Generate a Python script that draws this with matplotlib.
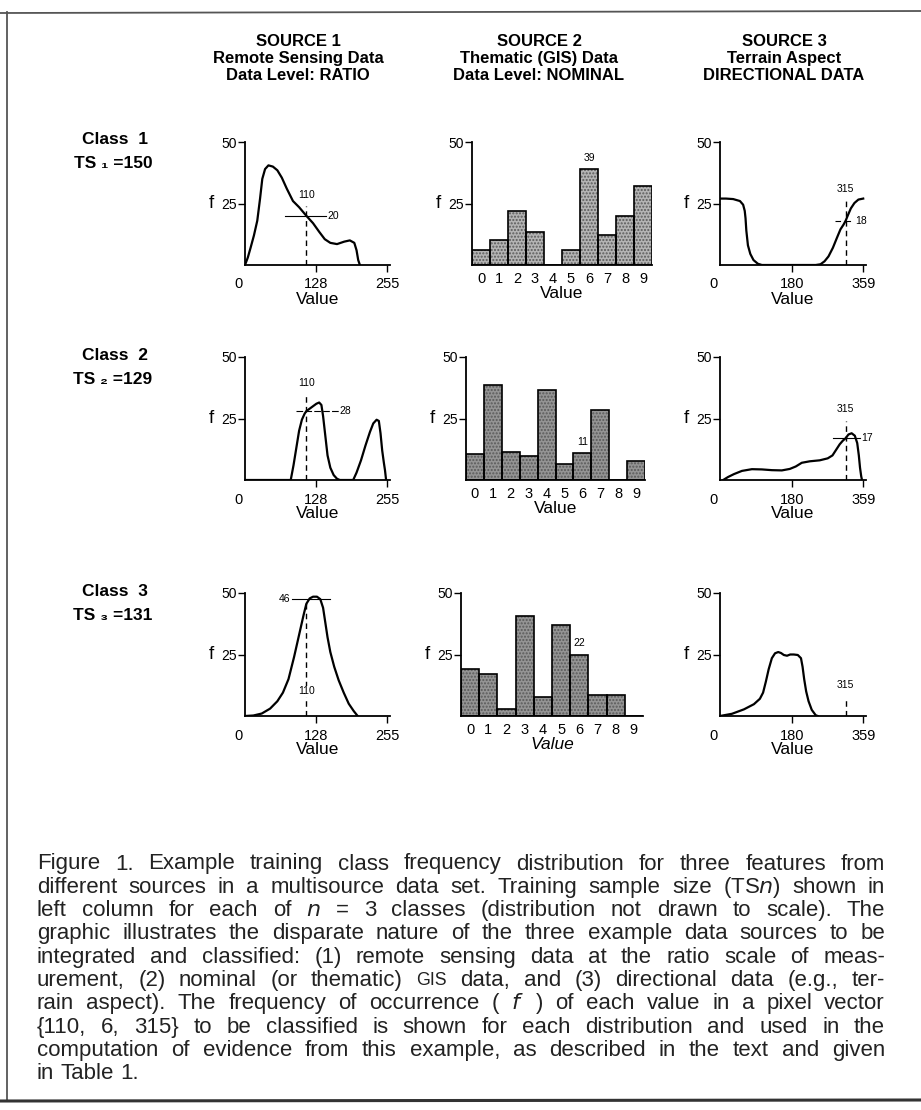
import matplotlib.pyplot as plt
from matplotlib.lines import Line2D
from matplotlib.transforms import ScaledTranslation

plt.rcParams['font.family'] = ['Liberation Sans', 'DejaVu Sans']

# ---------------- data ----------------
header_lines = [
    ['SOURCE 1', 'Remote Sensing Data', 'Data Level: RATIO'],
    ['SOURCE 2', 'Thematic (GIS) Data', 'Data Level: NOMINAL'],
    ['SOURCE 3', 'Terrain Aspect', 'DIRECTIONAL DATA'],
]
class_names = ['Class  1', 'Class  2', 'Class  3']
ts_labels = ['TS \u2081 =150', 'TS \u2082 =129', 'TS \u2083 =131']

# source 1: remote sensing, value 0-255
s1_x = [
    [0, 5, 10, 16, 22, 27, 31, 36, 42, 50, 58, 66, 75, 86, 97, 110, 122, 133, 143, 153, 165, 178, 188, 196, 200, 203, 206],
    [0, 82, 87, 92, 97, 102, 107, 110, 116, 122, 128, 133, 137, 140, 144, 148, 153, 159, 165, 170, 194, 200, 208, 216, 224,
     230, 236, 240, 243, 246, 249, 251, 253],
    [0, 15, 30, 45, 58, 68, 78, 88, 97, 105, 110, 116, 122, 129, 135, 140, 144, 148, 153, 160, 168, 177, 186, 195, 202],
]
s1_f = [
    [0, 3, 7, 12, 18, 27, 35, 39, 40.5, 40, 38.5, 35.5, 31, 26, 23.5, 20, 17, 13.5, 10.5, 9, 8.5, 9.5, 10, 9, 6, 2, 0],
    [0, 0, 6, 13, 20, 24.5, 27, 28, 29, 30, 31, 31.5, 30.5, 26, 18, 10, 5, 2, 0.5, 0, 0, 3, 8, 14, 19.5,
     23, 24.5, 24, 19, 12, 7, 4, 0],
    [0, 0.2, 1, 3, 6, 9.5, 15, 24, 33, 41, 45.6, 47.8, 48.5, 48.5, 47.5, 44, 38, 32, 26, 20, 14.5, 9.5, 5, 2, 0],
]

# source 2: thematic classes 0-9
s2_values = list(range(10))
s2_counts = [
    [6, 10, 22, 13.5, 0, 6, 39, 12, 20, 32],
    [10.5, 38.5, 11.5, 9.7, 36.4, 6.4, 11, 28.5, 0, 7.6],
    [19.2, 16.9, 2.9, 40.8, 7.9, 37, 25, 8.4, 8.4, 0],
]

# source 3: aspect 0-359 degrees
s3_x = [
    [0, 15, 33, 50, 58, 62, 64, 66, 70, 76, 84, 95, 105, 240, 252, 262, 272, 283, 293, 302, 310, 315, 320, 328,
     337, 347, 359],
    [8, 20, 35, 55, 80, 105, 130, 155, 175, 190, 205, 225, 250, 270, 282, 292, 300, 308, 315, 322, 330, 338, 344,
     348, 351, 354, 356],
    [0, 30, 60, 85, 100, 108, 115, 122, 130, 138, 146, 153, 160, 168, 176, 185, 195, 203, 207, 211, 216, 222, 230,
     240, 245],
]
s3_f = [
    [27, 27, 26.8, 26, 24.5, 22, 19, 14, 8, 4.5, 2, 0.5, 0, 0, 0.3, 1.5, 3.5, 7, 11, 14.5, 16.5, 18, 20, 23,
     25.2, 26.6, 27],
    [0, 1.2, 2.4, 3.7, 4.4, 4.3, 4.0, 3.9, 4.5, 5.5, 7.0, 7.6, 8.0, 8.8, 10, 12.5, 14.5, 16, 17, 18.5, 19, 18, 15,
     10, 5, 1.5, 0],
    [0, 0.9, 2.7, 4.8, 7, 9.5, 14, 19, 23.5, 25.5, 26, 25.6, 24.8, 24.5, 25, 25, 24.8, 23.5, 20, 15, 10, 6, 2.5,
     0.3, 0],
]

# pixel vector to classify and its frequencies
pixel_vector = [110, 6, 315]
f_src1 = [20, 28, 46]
f_src2 = [39, 11, 22]
f_src3 = [18, 17, None]

caption = [
    "Figure 1. Example training class frequency distribution for three features from",
    "different sources in a multisource data set. Training sample size (TS$n$) shown in",
    "left column for each of $n$ = 3 classes (distribution not drawn to scale). The",
    "graphic illustrates the disparate nature of the three example data sources to be",
    "integrated and classified: (1) remote sensing data at the ratio scale of meas-",
    "urement, (2) nominal (or thematic) GIS data, and (3) directional data (e.g., ter-",
    "rain aspect). The frequency of occurrence ( $f$ ) of each value in a pixel vector",
    "{110, 6, 315} to be classified is shown for each distribution and used in the",
    "computation of evidence from this example, as described in the text and given",
    "in Table 1.",
]

# ---------------- layout (pixels) ----------------
W, H = 921, 1110
fig = plt.figure(figsize=(W / 100, H / 100), dpi=100)
zero_shift = ScaledTranslation(-7 / 100, 0, fig.dpi_scale_trans)


def px_axes(left, top, width, height):
    return fig.add_axes([left / W, 1 - (top + height) / H, width / W, height / H])


row_top = [142, 357, 593]
row_h = 123
s2_left = [472, 466, 461]
s2_bw = [18, 17.9, 18.2]


def style(ax):
    for s in ['top', 'right']:
        ax.spines[s].set_visible(False)
    for s in ['left', 'bottom']:
        ax.spines[s].set_linewidth(1.3)
    ax.set_ylim(0, 50)
    ax.set_yticks([25, 50])
    ax.tick_params(axis='y', direction='out', length=5, width=1, labelsize=10, pad=1)
    ax.annotate('f', xy=(0, 0.5), xycoords='axes fraction', xytext=(-34, 0), textcoords='offset pixels',
                ha='center', va='center', fontsize=13.5)


def zero_label_left(ax):
    ax.xaxis.get_major_ticks()[0].tick1line.set_visible(False)
    lab = ax.get_xticklabels()[0]
    lab.set_transform(lab.get_transform() + zero_shift)


for i in range(3):
    top = row_top[i]

    # ---- source 1
    ax = px_axes(245, top, 145, row_h)
    style(ax)
    ax.set_xlim(0, 260)
    ax.plot(s1_x[i], s1_f[i], color='black', lw=1.6, solid_joinstyle='round')
    ax.set_xticks([0, 128, 255])
    ax.tick_params(axis='x', direction='out', length=5, width=1, labelsize=10.5, pad=4)
    zero_label_left(ax)
    ax.set_xlabel('Value', fontsize=12.5, labelpad=0)
    v, f = pixel_vector[0], f_src1[i]
    if i == 0:
        ax.plot([v, v], [0, 24], color='black', lw=1, ls=(0, (4, 3)))
        ax.plot([72, 146], [f, f], color='black', lw=0.8)
        ax.text(v, 28.5, str(v), ha='center', va='center', fontsize=7.5)
        ax.text(148, f, str(f), ha='left', va='center', fontsize=7.5)
    elif i == 1:
        ax.plot([v, v], [0, 34], color='black', lw=1, ls=(0, (4, 3)))
        ax.plot([92, 168], [f, f], color='black', lw=0.8, ls=(0, (6, 2)))
        ax.text(v, 39.5, str(v), ha='center', va='center', fontsize=7.5)
        ax.text(170, f, str(f), ha='left', va='center', fontsize=7.5)
    else:
        ax.plot([v, v], [0, f], color='black', lw=1, ls=(0, (4, 3)))
        ax.plot([85, 153], [f + 1.5, f + 1.5], color='black', lw=0.8)
        ax.text(v, 10, str(v), ha='center', va='center', fontsize=7.5,
                bbox=dict(facecolor='white', edgecolor='none', pad=0.5))
        ax.text(82, f + 1.5, str(f), ha='right', va='center', fontsize=7.5)

    # ---- source 2
    ax = px_axes(s2_left[i], top, 10 * s2_bw[i], row_h)
    style(ax)
    ax.set_xlim(-0.5, 9.5)
    shade = '#b4b4b4' if i == 0 else '#949494'
    ax.bar(s2_values, s2_counts[i], width=1, color=shade, edgecolor='#5a5a5a', hatch='.....', lw=0)
    ax.bar(s2_values, s2_counts[i], width=1, fill=False, edgecolor='black', lw=1.2)
    ax.set_xticks(s2_values)
    ax.tick_params(axis='x', length=0, labelsize=10.5, pad=5)
    ax.set_xlabel('Value', fontsize=12.5, labelpad=0, style='italic' if i == 2 else 'normal')
    c = pixel_vector[1]
    ax.text(c, s2_counts[i][c] + 4.5, str(f_src2[i]), ha='center', va='center', fontsize=7.5)

    # ---- source 3
    ax = px_axes(720, top, 146, row_h)
    style(ax)
    ax.set_xlim(0, 366)
    ax.plot(s3_x[i], s3_f[i], color='black', lw=1.6, solid_joinstyle='round')
    ax.set_xticks([0, 180, 359])
    ax.tick_params(axis='x', direction='out', length=5, width=1, labelsize=10.5, pad=4)
    zero_label_left(ax)
    ax.set_xlabel('Value', fontsize=12.5, labelpad=0)
    v, f = pixel_vector[2], f_src3[i]
    if i == 0:
        ax.plot([v, v], [0, 26], color='black', lw=1, ls=(0, (4, 3)))
        ax.plot([288, 336], [f, f], color='black', lw=0.8, ls=(0, (5, 4)))
        ax.text(v, 31, str(v), ha='center', va='center', fontsize=7.5)
        ax.text(340, f, str(f), ha='left', va='center', fontsize=7.5)
    elif i == 1:
        ax.plot([v, v], [0, 24], color='black', lw=1, ls=(0, (4, 3)))
        ax.plot([283, 350], [f, f], color='black', lw=0.8)
        ax.text(v, 29, str(v), ha='center', va='center', fontsize=7.5)
        ax.text(353, f, str(f), ha='left', va='center', fontsize=7.5)
    else:
        ax.plot([v, v], [0, 7.5], color='black', lw=1, ls=(0, (4, 3)))
        ax.text(v, 12.5, str(v), ha='center', va='center', fontsize=7.5)

    # ---- class labels
    fig.text(115 / W, 1 - (top - 2) / H, class_names[i], ha='center', va='center',
             fontsize=12.5, fontweight='bold')
    fig.text(113 / W, 1 - (top + 22) / H, ts_labels[i], ha='center', va='center',
             fontsize=12.5, fontweight='bold')

# ---------------- column headers ----------------
for x, lines in zip([298, 539, 784], header_lines):
    for k, txt in enumerate(lines):
        fig.text(x / W, 1 - (42 + k * 16.5) / H, txt, ha='center', va='center', fontsize=12,
                 fontweight='bold')

# ---------------- caption (justified) ----------------
renderer = fig.canvas.get_renderer()
cap_left, cap_right = 37, 885
cap_size = 16
for k, line in enumerate(caption):
    y = 1 - (864 + k * 23.3) / H
    words = line.split(' ')
    texts = []
    for w in words:
        size = cap_size * 0.8 if w == 'GIS' else cap_size
        texts.append(fig.text(0, y, w, ha='left', va='center', fontsize=size, color='#222222'))
    widths = [t.get_window_extent(renderer).width for t in texts]
    if k < len(caption) - 1 and len(words) > 1:
        gap = (cap_right - cap_left - sum(widths)) / (len(words) - 1)
    else:
        gap = cap_size * 100 / 72 * 0.28
    x = cap_left
    for t, w in zip(texts, widths):
        t.set_x(x / W)
        x += w + gap

# ---------------- frame ----------------
fig.add_artist(Line2D([0, 1], [1 - 13 / H, 1 - 11 / H], transform=fig.transFigure, color='#555555', lw=1.3))
fig.add_artist(Line2D([7 / W, 7 / W], [1 - 12 / H, 1 - 1100 / H], transform=fig.transFigure, color='#555555', lw=1.3))
fig.add_artist(Line2D([0, 1], [1 - 1101 / H, 1 - 1100 / H], transform=fig.transFigure, color='#333333', lw=2.2))

fig.savefig('out.png', dpi=100)
